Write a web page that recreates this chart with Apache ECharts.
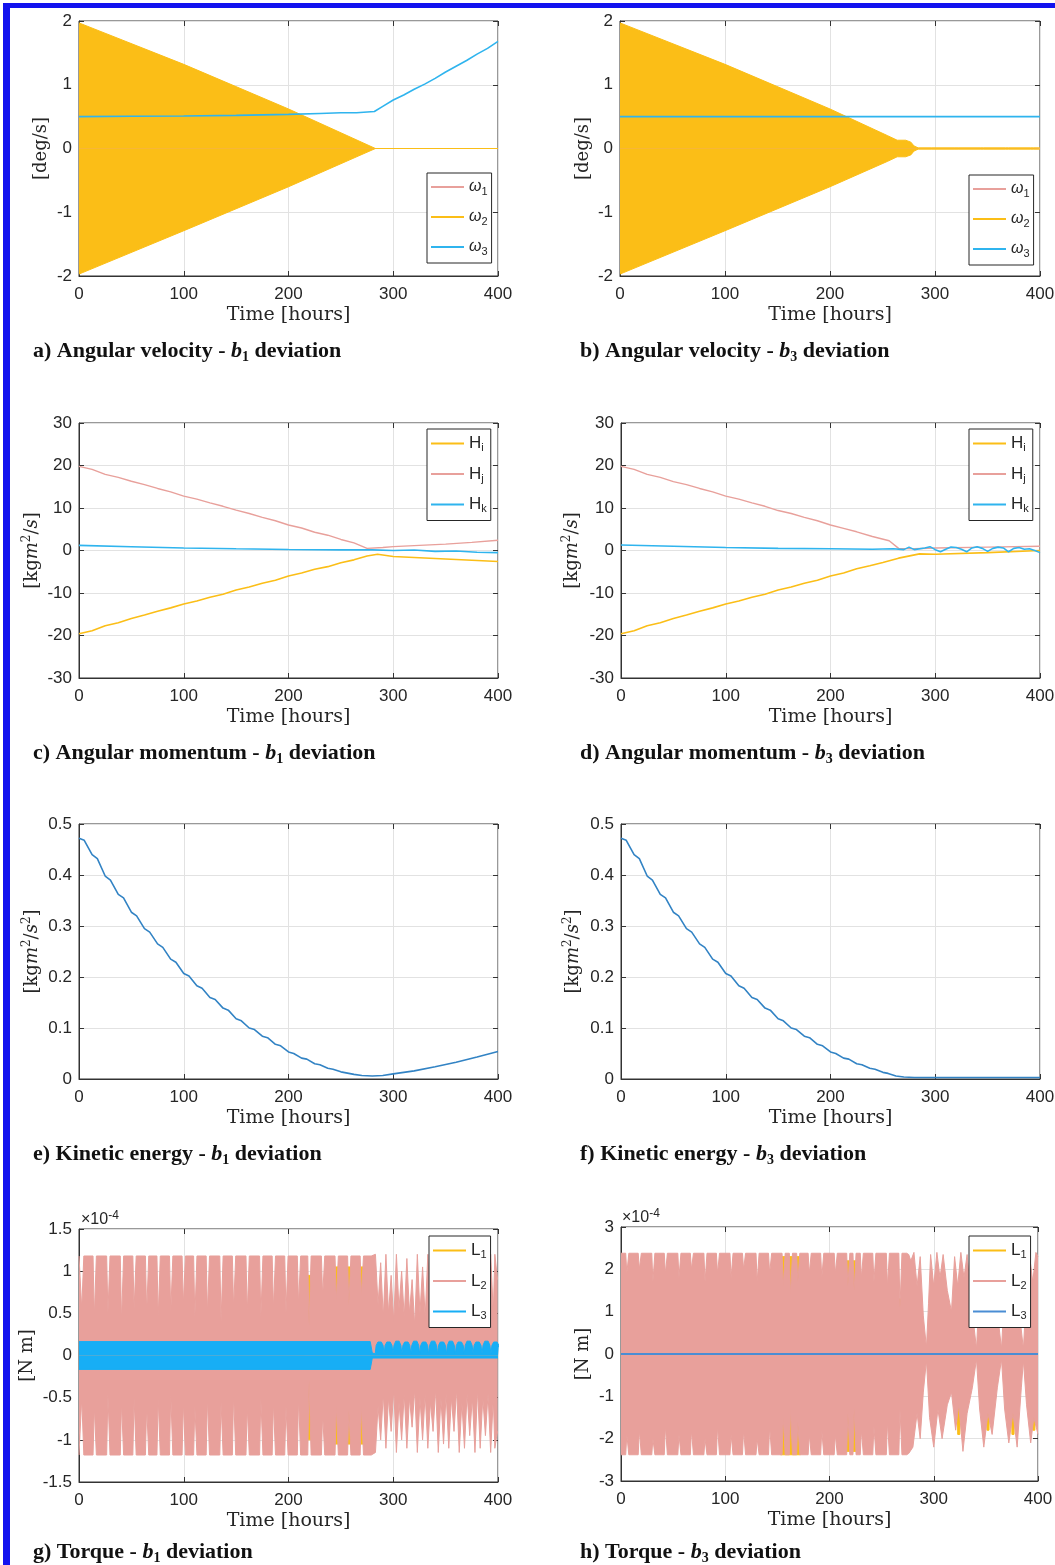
<!DOCTYPE html>
<html><head><meta charset="utf-8">
<script src="https://cdn.jsdelivr.net/npm/echarts@6/dist/echarts.min.js"></script>
<style>html,body{margin:0;padding:0;background:#fff}#c{width:1055px;height:1565px}</style>
</head><body><div id="c"></div><script>
// ---------------- DATA (time in hours) ----------------
const timeTicks = [0, 100, 200, 300, 400];
// a) angular velocity, b1 deviation [deg/s]
const a_w1 = [[0,0],[400,0]];
const a_w2Upper = [[0,1.97],[100,1.32],[200,0.62],[283,0],[400,0]];
const a_w2Lower = [[0,-1.97],[100,-1.29],[200,-0.6],[283,0],[400,0]];
const a_w3 = [[0,0.5],[50,0.505],[100,0.51],[150,0.52],[200,0.535],[230,0.55],[250,0.56],[265,0.56],[282,0.58],[290,0.66],[300,0.76],[310,0.84],[320,0.93],[330,1.01],[340,1.1],[350,1.2],[360,1.29],[370,1.38],[380,1.48],[390,1.57],[400,1.68]];
// b) angular velocity, b3 deviation
const b_w1 = [[0,0],[400,0]];
const b_w2Upper = [[0,1.97],[100,1.32],[200,0.62],[255,0.2],[264,0.13],[272,0.13],[277,0.1],[280,0.04],[284,0.01],[297,0.01],[298.5,0.035],[300,0.01],[319,0.01],[320.5,0.035],[322,0.01],[343,0.01],[344.5,0.03],[346,0.01],[367,0.01],[368.5,0.03],[370,0.01],[391,0.01],[392.5,0.03],[394,0.01],[400,0.01]];
const b_w2Lower = [[0,-1.97],[100,-1.29],[200,-0.6],[255,-0.2],[264,-0.13],[272,-0.13],[277,-0.1],[280,-0.04],[284,-0.01],[297,-0.01],[298.5,-0.035],[300,-0.01],[319,-0.01],[320.5,-0.035],[322,-0.01],[343,-0.01],[344.5,-0.03],[346,-0.01],[367,-0.01],[368.5,-0.03],[370,-0.01],[391,-0.01],[392.5,-0.03],[394,-0.01],[400,-0.01]];
const b_w3 = [[0,0.5],[400,0.5]];
// c) angular momentum, b1 deviation [kg m^2/s]
const c_Hi = [[0,-19.6],[12.5,-18.9],[25,-17.7],[37.5,-17.0],[50,-16.0],[62.5,-15.2],[75,-14.3],[87.5,-13.5],[100,-12.6],[112.5,-11.9],[125,-11.0],[137.5,-10.3],[150,-9.3],[162.5,-8.6],[175,-7.7],[187.5,-7.0],[200,-6.0],[212.5,-5.3],[225,-4.4],[237.5,-3.8],[250,-2.9],[262.5,-2.2],[275,-1.3],[285,-0.9],[300,-1.4],[325,-1.7],[350,-2.0],[375,-2.3],[400,-2.6]];
const c_Hj = [[0,19.8],[12.5,19.1],[25,17.9],[37.5,17.2],[50,16.3],[62.5,15.5],[75,14.6],[87.5,13.8],[100,12.8],[112.5,12.1],[125,11.2],[137.5,10.4],[150,9.5],[162.5,8.7],[175,7.8],[187.5,7.0],[200,6.0],[212.5,5.3],[225,4.3],[237.5,3.6],[250,2.6],[262.5,1.8],[275,0.5],[290,0.7],[300,0.9],[325,1.2],[350,1.5],[375,1.9],[400,2.4]];
const c_Hk = [[0,1.2],[50,0.9],[100,0.6],[150,0.4],[200,0.25],[250,0.15],[280,0.15],[300,0.0],[320,0.1],[340,-0.2],[360,-0.1],[380,-0.4],[400,-0.5]];
// d) angular momentum, b3 deviation
const d_Hi = [[0,-19.6],[12.5,-18.9],[25,-17.7],[37.5,-17.0],[50,-16.0],[62.5,-15.2],[75,-14.3],[87.5,-13.5],[100,-12.6],[112.5,-11.9],[125,-11.0],[137.5,-10.3],[150,-9.3],[162.5,-8.6],[175,-7.7],[187.5,-7.0],[200,-6.0],[212.5,-5.3],[225,-4.3],[237.5,-3.6],[250,-2.8],[265,-1.8],[285,-0.8],[300,-0.9],[350,-0.5],[400,0.0]];
const d_Hj = [[0,19.8],[12.5,19.1],[25,17.9],[37.5,17.2],[50,16.2],[62.5,15.5],[75,14.6],[87.5,13.8],[100,12.8],[112.5,12.1],[125,11.2],[137.5,10.4],[150,9.4],[162.5,8.7],[175,7.8],[187.5,7.0],[200,6.0],[212.5,5.2],[225,4.4],[240,3.3],[256,2.3],[265,0.5],[280,0.4],[300,0.6],[350,0.8],[400,1.0]];
const d_Hk = [[0,1.3],[50,1.0],[100,0.7],[150,0.5],[200,0.4],[240,0.3],[260,0.4],[270,0.2],[275,0.8],[280,0.2],[290,0.6],[295,0.9],[300,0.2],[305,-0.3],[310,0.3],[315,0.8],[320,0.7],[325,0.3],[330,-0.3],[335,0.6],[340,0.9],[345,0.5],[350,-0.2],[355,0.5],[360,0.8],[365,0.6],[370,-0.3],[375,0.5],[380,0.7],[385,0.3],[390,0.4],[395,0.0],[400,-0.5]];
// e) kinetic energy, b1 deviation [kg m^2/s^2]
const e_KE = [[0,0.472],[5,0.468],[12.5,0.44],[17.5,0.432],[25,0.398],[30,0.39],[37.5,0.362],[42.5,0.355],[50,0.327],[55,0.32],[62.5,0.295],[67.5,0.288],[75,0.265],[80,0.258],[87.5,0.235],[92.5,0.229],[100,0.207],[105,0.202],[112.5,0.183],[117.5,0.178],[125,0.16],[130,0.156],[137.5,0.139],[142.5,0.135],[150,0.118],[155,0.114],[162.5,0.1],[167.5,0.097],[175,0.084],[180,0.081],[187.5,0.068],[192.5,0.065],[200,0.053],[205,0.05],[212.5,0.041],[217.5,0.039],[225,0.03],[230,0.028],[237.5,0.021],[242.5,0.019],[250,0.014],[255,0.012],[262.5,0.009],[270,0.007],[280,0.006],[290,0.007],[300,0.01],[320,0.016],[340,0.024],[360,0.033],[380,0.043],[400,0.054]];
// f) kinetic energy, b3 deviation
const f_KE = [[0,0.472],[5,0.468],[12.5,0.44],[17.5,0.432],[25,0.398],[30,0.39],[37.5,0.362],[42.5,0.355],[50,0.327],[55,0.32],[62.5,0.295],[67.5,0.288],[75,0.265],[80,0.258],[87.5,0.235],[92.5,0.229],[100,0.207],[105,0.202],[112.5,0.183],[117.5,0.178],[125,0.16],[130,0.156],[137.5,0.139],[142.5,0.135],[150,0.118],[155,0.114],[162.5,0.1],[167.5,0.097],[175,0.084],[180,0.081],[187.5,0.068],[192.5,0.065],[200,0.053],[205,0.05],[212.5,0.041],[217.5,0.039],[225,0.03],[230,0.028],[237.5,0.021],[242.5,0.019],[250,0.013],[255,0.011],[262.5,0.006],[270,0.004],[280,0.003],[300,0.003],[400,0.003]];
// g) torque, b1 deviation [x1e-4 N m]
const g_L2Base = 1.18;
const g_notchT   = [3,15,28,41,53,65,76,88,100,111,123,136,148,161,174,186,198,210,220,233,246,258,270];
const g_notchTop = [0.55,0.45,0.5,0.4,0.55,0.5,0.45,0.5,0.6,0.45,0.5,0.4,0.55,0.5,0.45,0.55,0.5,0.6,0.35,0.7,0.65,0.6,0.7];
const g_notchBot = [-0.5,-0.6,-0.45,-0.55,-0.5,-0.6,-0.5,-0.45,-0.55,-0.6,-0.5,-0.55,-0.45,-0.6,-0.5,-0.55,-0.6,-0.5,-0.3,-0.7,-0.6,-0.65,-0.6];
const g_postT    = [283,288,293,298,303,308,313,318,323,328,333,338,343,348,353,358,363,368,373,378,383,388,393,397];
const g_postTop  = [1.2,1.1,1.2,0.95,1.2,1.0,1.15,0.9,1.2,1.05,1.2,0.95,1.2,1.1,1.2,0.9,1.15,1.2,1.0,1.2,1.15,1.0,1.2,1.2];
const g_postTopV = [0.6,0.45,0.5,0.4,0.55,0.45,0.5,0.35,0.5,0.45,0.55,0.4,0.5,0.45,0.5,0.4,0.55,0.45,0.5,0.4,0.5,0.45,0.5,0.9];
const g_postBot  = [-1.15,-1.0,-1.1,-0.9,-1.15,-1.0,-1.1,-0.85,-1.15,-1.0,-1.1,-0.9,-1.15,-1.05,-1.1,-0.9,-1.15,-1.1,-0.95,-1.15,-1.1,-0.95,-1.15,-1.1];
const g_postBotV = [-0.6,-0.45,-0.5,-0.4,-0.55,-0.45,-0.5,-0.4,-0.5,-0.45,-0.55,-0.4,-0.5,-0.45,-0.5,-0.4,-0.55,-0.45,-0.5,-0.4,-0.5,-0.45,-0.5,-0.9];
const g_L1Upper = [[0,0],[214,0],[215,0.95],[225,0.95],[226,0],[238,0],[239,1.05],[277,1.05],[278,0],[400,0]];
const g_L1Lower = [[0,0],[215,0],[216,-1.0],[226,-1.0],[227,0],[238,0],[239,-1.05],[279,-1.05],[280,0],[400,0]];
const g_L3Band = [0.165, -0.165];
const g_L3ArchT = [287,295.5,304,312.5,321,329.5,338,346.5,355,363.5,372,380.5,389,397.5];
const g_L3ArchH = [0.16,0.16,0.17,0.16,0.17,0.16,0.17,0.16,0.17,0.16,0.17,0.16,0.17,0.16];
const g_L3ArchShoulder = 0.12;
const g_L3Valley = 0.02;
const g_L3Lower = [[0,-0.165],[278,-0.165],[280,-0.03],[400,-0.03]];
// h) torque, b3 deviation [x1e-4 N m]
const h_L2Base = 2.38;
const h_notchT   = [6,18,31,43,56,68,81,93,106,118,131,143,156,163,170,181,193,206,218,224,231,243,256,268];
const h_notchTop = [1.9,2.0,1.7,1.9,1.8,2.0,1.7,1.9,1.8,2.0,1.7,1.9,1.6,1.4,1.7,1.9,1.8,1.9,1.6,1.5,1.8,1.7,1.6,1.1];
const h_notchBot = [-1.9,-1.8,-2.0,-1.7,-1.9,-1.8,-2.0,-1.7,-1.9,-1.8,-2.0,-1.7,-1.5,-1.3,-1.6,-1.9,-1.8,-1.9,-1.4,-1.3,-1.8,-1.7,-1.6,-1.3];
const h_postTop = [[276,2.35],[278,2.2],[281,2.4],[284,1.6],[287,2.3],[290,0.9],[293,0.15],[295,1.2],[297,2.35],[300,1.6],[303,2.4],[306,1.8],[309,2.35],[313,1.5],[317,1.0],[320,2.3],[323,1.6],[326,2.4],[329,1.8],[332,2.35],[337,1.0],[341,0.12],[344,1.6],[347,2.4],[350,1.5],[353,2.35],[357,1.2],[361,1.0],[365,0.12],[368,1.5],[371,2.4],[374,1.8],[377,2.3],[382,1.0],[386,0.12],[389,1.5],[392,2.3],[395,1.7],[398,2.4],[400,2.3]];
const h_postBot = [[276,-2.35],[280,-2.2],[284,-1.4],[287,-2.0],[290,-0.9],[293,-0.15],[296,-1.5],[300,-2.2],[304,-1.3],[308,-2.0],[313,-1.2],[317,-0.9],[321,-1.8],[324,-1.2],[328,-2.3],[332,-1.4],[337,-0.8],[341,-0.12],[344,-1.3],[348,-2.2],[352,-1.4],[356,-1.9],[361,-0.8],[365,-0.12],[368,-1.3],[372,-2.1],[376,-1.4],[380,-2.2],[384,-0.8],[386,-0.15],[389,-1.2],[393,-2.1],[396,-1.5],[400,-1.9]];
const h_L1Upper = [[0,0],[152,0],[153,2.3],[172,2.3],[173,0],[214,0],[215,2.2],[226,2.2],[227,0],[265,0],[266,1.3],[272,1.3],[273,0],[400,0]];
const h_L1Lower = [[0,0],[152,0],[153,-2.38],[172,-2.38],[173,0],[214,0],[215,-2.3],[226,-2.3],[227,0],[322,0],[323,-1.9],[325,-1.9],[326,0],[350,0],[351,-1.8],[353,-1.8],[354,0],[374,0],[375,-1.9],[377,-1.9],[378,0],[394,0],[395,-1.8],[397,-1.8],[398,0],[400,0]];
const h_L3 = [[0,0],[400,0]];

// ---------------- STYLE ----------------
const PINK='#E8A09B', YEL='#FBBE17', CYAN='#2FB4EE', BLUE='#3283C4', BRIGHT='#17AEF5', STEEL='#4A8DD4';
const AX='#333333', GRIDC='#E2E2E2', TXT='#262626';
const SANS='"Liberation Sans", Arial, sans-serif', SERIF='"DejaVu Serif", serif', TIMES='"Liberation Serif", "Times New Roman", serif';

const grids = [
 {left:79, top:21, width:419, height:255},
 {left:620, top:21, width:420, height:255},
 {left:79, top:423, width:419, height:255},
 {left:621, top:423, width:419, height:255},
 {left:79, top:824, width:419, height:255},
 {left:621, top:824, width:419, height:255},
 {left:79, top:1229, width:419, height:253},
 {left:621, top:1227, width:417, height:254}
];
const yCfg = [[-2,2,1],[-2,2,1],[-30,30,10],[-30,30,10],[0,0.5,0.1],[0,0.5,0.1],[-1.5,1.5,0.5],[-3,3,1]];
const yNames = ['[deg/s]','[deg/s]',
  '{n|[kg}{i|m}{p|2}{n|/}{i|s}{n|]}','{n|[kg}{i|m}{p|2}{n|/}{i|s}{n|]}',
  '{n|[kg}{i|m}{p|2}{n|/}{i|s}{p|2}{n|]}','{n|[kg}{i|m}{p|2}{n|/}{i|s}{p|2}{n|]}',
  '[N m]','[N m]'];
const yGaps = [29,28,36,38,36,37,43,29];

const nameRich = {
  n:{fontFamily:SERIF,fontSize:18,color:TXT,lineHeight:22},
  i:{fontFamily:SERIF,fontSize:18,fontStyle:'italic',color:TXT,lineHeight:22},
  p:{fontFamily:SERIF,fontSize:12,color:TXT,lineHeight:12,verticalAlign:'top'}
};

const xAxes=[], yAxes=[];
grids.forEach((g,i)=>{
  xAxes.push({type:'value',gridIndex:i,min:0,max:400,interval:100,position:'bottom',
    axisLine:{show:true,onZero:false,lineStyle:{color:AX,width:1}},
    axisTick:{show:true,inside:true,length:5,lineStyle:{color:AX}},
    axisLabel:{show:true,margin:10,color:TXT,fontFamily:SANS,fontSize:17},
    splitLine:{show:true,lineStyle:{color:GRIDC,width:1}},
    name:'Time [hours]',nameLocation:'middle',nameGap:30,nameMoveOverlap:false,
    nameTextStyle:{fontFamily:SERIF,fontSize:19,color:TXT}});
  yAxes.push({type:'value',gridIndex:i,min:yCfg[i][0],max:yCfg[i][1],interval:yCfg[i][2],position:'left',
    axisLine:{show:true,onZero:false,lineStyle:{color:AX,width:1}},
    axisTick:{show:true,inside:true,length:5,lineStyle:{color:AX}},
    axisLabel:{show:true,margin:7,color:TXT,fontFamily:SANS,fontSize:17},
    splitLine:{show:true,lineStyle:{color:GRIDC,width:1}},
    name:yNames[i],nameLocation:'middle',nameGap:yGaps[i],nameRotate:90,nameMoveOverlap:false,
    nameTextStyle:{fontFamily:SERIF,fontSize:18,color:TXT,rich:nameRich}});
});
grids.forEach((g,i)=>{
  xAxes.push({type:'value',gridIndex:i,min:0,max:400,interval:100,position:'top',
    axisLine:{show:false,onZero:false},axisTick:{show:true,inside:true,length:5,lineStyle:{color:AX}},
    axisLabel:{show:false},splitLine:{show:false}});
  yAxes.push({type:'value',gridIndex:i,min:yCfg[i][0],max:yCfg[i][1],interval:yCfg[i][2],position:'right',
    axisLine:{show:false,onZero:false},axisTick:{show:true,inside:true,length:5,lineStyle:{color:AX}},
    axisLabel:{show:false},splitLine:{show:false}});
});

function line(gi,name,data,color,width,z,extra){
  return Object.assign({type:'line',name,xAxisIndex:gi,yAxisIndex:gi,data,symbol:'none',showSymbol:false,z:z,
    lineStyle:{color,width},itemStyle:{color},animation:false,silent:true,emphasis:{disabled:true}},extra||{});
}
function band(gi,name,data,color,z,extra){
  const s=line(gi,name,data,color,1,z,extra); s.areaStyle={color,opacity:1}; return s;
}
function notchEnv(base,ts,depths,half,endT){
  const p=[[0,base]];
  ts.forEach((t,k)=>{p.push([t-half,base],[t-0.4,depths[k]],[t+0.4,depths[k]],[t+half,base]);});
  p.push([endT,base]); return p;
}
function peaks(ts,pk,vl){const p=[];ts.forEach((t,k)=>{p.push([t,pk[k]],[t+2.5,vl[k]]);});return p;}
function arches(ts,h,sh,v){const p=[];ts.forEach((t,k)=>{p.push([t-4.25,v],[t-3.3,sh],[t-1.6,h[k]],[t+1.6,h[k]],[t+3.3,sh]);});return p;}

const g_L2Upper = notchEnv(g_L2Base,g_notchT,g_notchTop,1.6,279).concat(peaks(g_postT,g_postTop,g_postTopV));
const g_L2Lower = notchEnv(-g_L2Base,g_notchT,g_notchBot,1.6,279).concat(peaks(g_postT,g_postBot,g_postBotV));
const g_L3Upper = [[0,g_L3Band[0]],[278,g_L3Band[0]],[280,0.03]].concat(arches(g_L3ArchT,g_L3ArchH,g_L3ArchShoulder,g_L3Valley)).concat([[400,0.1]]);
const h_L2Upper = notchEnv(h_L2Base,h_notchT,h_notchTop,1.5,274).concat(h_postTop);
const h_L2Lower = notchEnv(-h_L2Base,h_notchT,h_notchBot,1.5,274).concat(h_postBot);

const series = [
  line(0,'a:w1',a_w1,PINK,1.2,2), band(0,'a:w2',a_w2Upper,YEL,3), band(0,'a:w2lo',a_w2Lower,YEL,3), line(0,'a:w3',a_w3,CYAN,1.6,4),
  line(1,'b:w1',b_w1,PINK,1.2,2), band(1,'b:w2',b_w2Upper,YEL,3), band(1,'b:w2lo',b_w2Lower,YEL,3), line(1,'b:w3',b_w3,CYAN,1.6,4),
  line(2,'c:Hi',c_Hi,YEL,1.6,2), line(2,'c:Hj',c_Hj,PINK,1.4,3), line(2,'c:Hk',c_Hk,CYAN,1.6,4),
  line(3,'d:Hi',d_Hi,YEL,1.6,2), line(3,'d:Hj',d_Hj,PINK,1.4,3), line(3,'d:Hk',d_Hk,CYAN,1.6,4),
  line(4,'e:KE',e_KE,BLUE,1.6,2), line(5,'f:KE',f_KE,BLUE,1.6,2),
  band(6,'g:L1',g_L1Upper,YEL,2), band(6,'g:L1lo',g_L1Lower,YEL,2),
  band(6,'g:L2',g_L2Upper,PINK,3), band(6,'g:L2lo',g_L2Lower,PINK,3),
  band(6,'g:L3',g_L3Upper,BRIGHT,4), band(6,'g:L3lo',g_L3Lower,BRIGHT,4),
  band(7,'h:L1',h_L1Upper,YEL,2), band(7,'h:L1lo',h_L1Lower,YEL,2),
  band(7,'h:L2',h_L2Upper,PINK,3), band(7,'h:L2lo',h_L2Lower,PINK,3),
  line(7,'h:L3',h_L3,STEEL,2,4)
];

const legendLabel = {
  w1:'{w|ω}{s|1}', w2:'{w|ω}{s|2}', w3:'{w|ω}{s|3}',
  Hi:'{n|H}{s|i}', Hj:'{n|H}{s|j}', Hk:'{n|H}{s|k}',
  L1:'{n|L}{s|1}', L2:'{n|L}{s|2}', L3:'{n|L}{s|3}'
};
function legend(names,left,top){
  return {data:names.map(n=>({name:n,icon:'rect'})),left,top,orient:'vertical',itemWidth:33,itemHeight:2,itemGap:12,padding:[6,4,6,4],
    backgroundColor:'#fff',borderColor:'#262626',borderWidth:1,borderRadius:0,selectedMode:false,z:10,
    formatter:n=>legendLabel[n.split(':')[1]],
    textStyle:{color:TXT,fontFamily:SANS,fontSize:15,rich:{
      w:{fontFamily:SANS,fontSize:16,fontStyle:'italic',color:TXT,lineHeight:20},
      n:{fontFamily:SANS,fontSize:17,color:TXT,lineHeight:20},
      s:{fontFamily:SANS,fontSize:11,color:TXT,lineHeight:11,verticalAlign:'bottom'}}}};
}
const legends = [
  legend(['a:w1','a:w2','a:w3'],427,173),
  legend(['b:w1','b:w2','b:w3'],969,175),
  legend(['c:Hi','c:Hj','c:Hk'],427,429),
  legend(['d:Hi','d:Hj','d:Hk'],969,429),
  legend(['g:L1','g:L2','g:L3'],429,1236),
  legend(['h:L1','h:L2','h:L3'],969,1236)
];

const capRich = {
  n:{fontFamily:TIMES,fontSize:22,fontWeight:'bold',fill:'#111',lineHeight:26},
  b:{fontFamily:TIMES,fontSize:22,fontWeight:'bold',fontStyle:'italic',fill:'#111',lineHeight:26},
  s:{fontFamily:TIMES,fontSize:14,fontWeight:'bold',fill:'#111',lineHeight:14,verticalAlign:'bottom'}
};
const captions = [
  ['a) Angular velocity - ','1',33,351],['b) Angular velocity - ','3',580,351],
  ['c) Angular momentum - ','1',33,753],['d) Angular momentum - ','3',580,753],
  ['e) Kinetic energy - ','1',33,1154],['f) Kinetic energy - ','3',580,1154],
  ['g) Torque - ','1',33,1552],['h) Torque - ','3',580,1552]
];
const graphic = [
  {type:'rect',shape:{x:3,y:3,width:7,height:1562},style:{fill:'#1212EE'},silent:true},
  {type:'rect',shape:{x:3,y:3,width:1052,height:5},style:{fill:'#1212EE'},silent:true}
];
captions.forEach(c=>{
  graphic.push({type:'text',x:c[2],y:c[3],silent:true,
    style:{text:'{n|'+c[0]+'}{b|b}{s|'+c[1]+'}{n| deviation}',rich:capRich,verticalAlign:'middle',align:'left'}});
});
const expRich = {n:{fontFamily:SANS,fontSize:16,fill:TXT,lineHeight:20},p:{fontFamily:SANS,fontSize:12,fill:TXT,lineHeight:12,verticalAlign:'top'}};
graphic.push({type:'text',x:81,y:1220,silent:true,style:{text:'{n|×10}{p|-4}',rich:expRich,verticalAlign:'middle'}});
graphic.push({type:'text',x:622,y:1218,silent:true,style:{text:'{n|×10}{p|-4}',rich:expRich,verticalAlign:'middle'}});

const chart = echarts.init(document.getElementById('c'));
chart.setOption({
  animation:false, backgroundColor:'#fff',
  grid: grids.map(g=>Object.assign({show:true,borderColor:AX,borderWidth:1,backgroundColor:'#fff',containLabel:false,outerBoundsMode:'none'},g)),
  xAxis:xAxes, yAxis:yAxes, series, legend:legends, graphic
});
</script></body></html>
